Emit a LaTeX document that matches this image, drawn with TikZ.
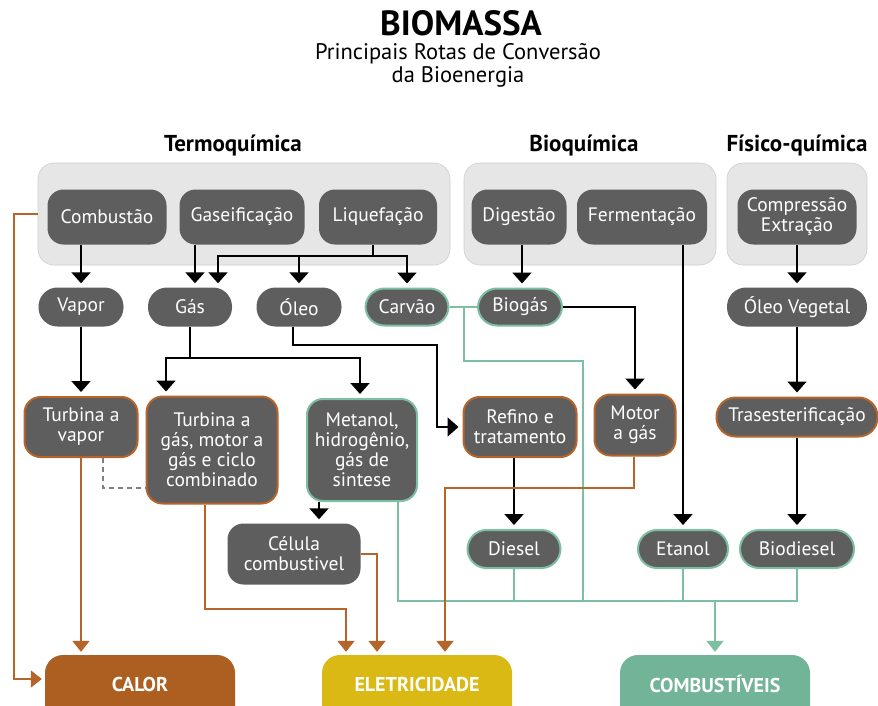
\documentclass[tikz,border=0pt]{standalone}
\usepackage{fontspec}
\setmainfont{PT Sans}
\usetikzlibrary{arrows.meta}
\definecolor{dgray}{HTML}{5E5E5E}
\definecolor{panelc}{HTML}{E6E6E6}
\definecolor{brownc}{HTML}{B5652A}
\definecolor{greenc}{HTML}{7DBFA3}
\definecolor{calorc}{HTML}{AD5F22}
\definecolor{eletrc}{HTML}{DBB914}
\definecolor{combc}{HTML}{71B497}
\tikzset{
  panel/.style={fill=panelc, draw=panelc!90!black, line width=0.6pt, rounded corners=16pt, inner sep=0pt},
  proc/.style={fill=dgray, text=white, rounded corners=16pt, inner sep=0pt, align=center,
     font=\fontsize{19.5}{20}\selectfont},
  pill/.style={proc, rounded corners=19pt},
  bbord/.style={draw=brownc, line width=2pt},
  gbord/.style={draw=greenc, line width=2pt},
  sz/.style 2 args={minimum width=#1pt, minimum height=#2pt},
  outbox/.style={rounded corners=18pt, text=white, inner sep=0pt, minimum width=190pt, minimum height=70pt,
     font=\bfseries\fontsize{20}{22}\selectfont},
  kline/.style={draw=black, line width=2pt},
  karr/.style={kline, -{Triangle[width=19pt,length=11pt]}, shorten >=4pt},
  bline/.style={draw=brownc, line width=2pt},
  barr/.style={bline, -{Triangle[width=17pt,length=11pt]}, shorten >=3pt},
  gline/.style={draw=greenc, line width=2pt},
  garr/.style={gline, -{Triangle[width=17pt,length=11pt]}, shorten >=3pt},
  dline/.style={draw=gray, line width=1.6pt, dash pattern=on 5pt off 4pt},
  head/.style={font=\bfseries\fontsize{23}{24}\selectfont, anchor=base}
}
\begin{document}
\begin{tikzpicture}[x=1pt,y=-1pt]
\path[use as bounding box, clip] (0,0) rectangle (878,706);
\fill[white] (0,0) rectangle (878,706);
% titles
\node[font=\bfseries\fontsize{35}{36}\selectfont, anchor=base] (title) at (461,36) {BIOMASSA};
\node[font=\fontsize{22.5}{24}\selectfont, anchor=base] (sub1) at (458,60) {Principais Rotas de Conversão};
\node[font=\fontsize{22.5}{24}\selectfont, anchor=base] (sub2) at (458,83) {da Bioenergia};
\node[head] (hterm) at (233,152) {Termoquímica};
\node[head] (hbio) at (584,152) {Bioquímica};
\node[head] (hfis) at (797,152) {Físico-química};
% panels
\node[panel, sz={412}{102}] (pterm) at (244,214) {};
\node[panel, sz={252}{102}] (pbio) at (590,214) {};
\node[panel, sz={140}{102}] (pfis) at (797,214) {};
% row 1
\node[proc, sz={119}{55}] (combustao) at (107,217) {Combustão};
\node[proc, sz={125}{55}] (gaseif) at (242,217) {Gaseificação};
\node[proc, sz={118}{55}] (liquef) at (378,217) {Liquefação};
\node[proc, sz={95}{55}] (digestao) at (519,217) {Digestão};
\node[proc, sz={130}{55}] (ferment) at (642,217) {Fermentação};
\node[proc, sz={119}{55}] (compress) at (797,217) {Compressão\\Extração};
% row 2
\node[pill, sz={85}{39}] (vapor) at (81,307) {Vapor};
\node[pill, sz={84}{39}] (gas) at (190,307) {Gás};
\node[pill, sz={85}{39}] (oleo) at (299,307) {Óleo};
\node[pill, gbord, sz={83}{37}] (carvao) at (407,307) {Carvão};
\node[pill, gbord, sz={84}{37}] (biogas) at (520,307) {Biogás};
\node[pill, sz={140}{39}] (oleoveg) at (797,307) {Óleo Vegetal};
% row 3
\node[proc, bbord, sz={113}{60}] (tv) at (81,427) {Turbina a\\vapor};
\node[proc, bbord, sz={131}{107}] (tg) at (212,450) {Turbina a\\gás, motor a\\gás e ciclo\\combinado};
\node[proc, gbord, sz={110}{102}] (metanol) at (362,450) {Metanol,\\hidrogênio,\\gás de\\sintese};
\node[proc, bbord, sz={113}{60}] (refino) at (520,427) {Refino e\\tratamento};
\node[proc, bbord, sz={81}{61}] (motor) at (635,425) {Motor\\a gás};
\node[pill, bbord, sz={161}{39}] (tras) at (797,417) {Trasesterificação};
\node[proc, sz={133}{61}] (celula) at (294,554) {Célula\\combustivel};
% row 4
\node[pill, gbord, sz={93}{38}] (diesel) at (514,549) {Diesel};
\node[pill, gbord, sz={90}{38}] (etanol) at (683,549) {Etanol};
\node[pill, gbord, sz={114}{38}] (biodiesel) at (797,549) {Biodiesel};
% outputs
\node[outbox, fill=calorc] (calor) at (140,690) {\raisebox{12pt}{CALOR}};
\node[outbox, fill=eletrc] (eletr) at (417,690) {\raisebox{12pt}{ELETRICIDADE}};
\node[outbox, fill=combc] (combust) at (715,690) {\raisebox{12pt}{COMBUSTÍVEIS}};
% junction coordinates
\coordinate (lj) at (373,256);
\coordinate (gj) at (190,358);
\coordinate (oj) at (437,345);
\coordinate (mc) at (319,0);
\coordinate (cj) at (464,307);
\coordinate (cb) at (583,361);
\coordinate (busL) at (398,601);
\coordinate (busR) at (797,601);
\coordinate (e1) at (346,609);
\coordinate (e2) at (377,554);
\coordinate (e3) at (445,488);
\coordinate (cl) at (14,679);
% black connectors
\draw[karr] (vapor.north |- combustao.south) -- (vapor.north);
\draw[karr] ([xshift=5pt]gas.north |- gaseif.south) -- ([xshift=5pt]gas.north);
\draw[kline] (lj |- liquef.south) -- (lj);
\draw[karr] (lj) -| ([xshift=28pt]gas.north);
\draw[karr] (oleo.north |- lj) -- (oleo.north);
\draw[karr] (lj) -| (carvao.north);
\draw[karr] ([xshift=2pt]biogas.north |- digestao.south) -- ([xshift=2pt]biogas.north);
\draw[karr] (etanol.north |- ferment.south) -- (etanol.north);
\draw[karr] (oleoveg.north |- compress.south) -- (oleoveg.north);
\draw[karr] (vapor.south) -- (tv.north);
\draw[kline] (gas.south) -- (gj);
\draw[karr] (gj) -| ([xshift=-46pt]tg.north);
\draw[karr] (gj) -| ([xshift=-2pt]metanol.north);
\draw[karr] ([xshift=-6pt]oleo.south) |- (oj) |- (refino.west);
\draw[karr] (biogas.east) -| (motor.north);
\draw[karr] (oleoveg.south) -- (tras.north);
\draw[karr] (tras.south) -- (biodiesel.north);
\draw[karr] (diesel.north |- refino.south) -- (diesel.north);
\draw[karr] (metanol.south -| mc) -- (celula.north -| mc);
% green connectors
\draw[gline] (carvao.east) -- (biogas.west);
\draw[gline] (cj) |- (cb) -- (cb |- busL);
\draw[gline] ([xshift=36pt]metanol.south) -- (busL) -- (busR) -- (biodiesel.south);
\draw[gline] (diesel.south) -- (diesel.south |- busL);
\draw[gline] (etanol.south) -- (etanol.south |- busL);
\draw[garr] (combust.north |- busL) -- (combust.north);
% brown connectors
\draw[barr] (pterm.west) -| (cl) -- (calor.west |- cl);
\draw[barr] (tv.south) -- (tv.south |- calor.north);
\draw[dline] ([xshift=22pt]tv.south) |- (tg.west |- e3);
\draw[barr] ([xshift=-7pt]tg.south) |- (e1) -- (e1 |- eletr.north);
\draw[barr] (celula.east) -- (e2) -- (e2 |- eletr.north);
\draw[barr] ([xshift=-1pt]motor.south) |- (e3) -- (e3 |- eletr.north);
\end{tikzpicture}
\end{document}
